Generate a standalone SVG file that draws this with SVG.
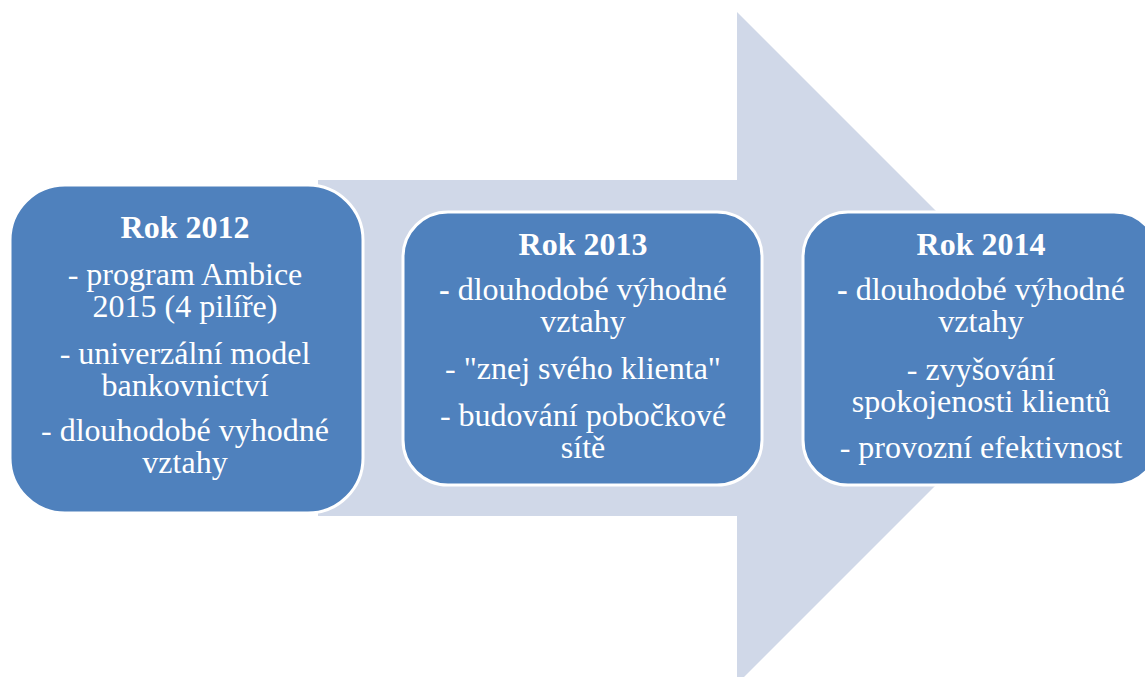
<svg xmlns="http://www.w3.org/2000/svg" width="1145" height="677" viewBox="0 0 1145 677">
<style>
.box{fill:#4F81BD;stroke:#FFFFFF;stroke-width:3}
text{font-size:32px;fill:#FFFFFF;text-anchor:middle}
.b{font-weight:bold}
</style>
<rect width="1145" height="677" fill="#FFFFFF"/>
<g id="arrow">
<polygon points="318,180 737,180 737,12 1073,348 737,684 737,516 318,516" fill="#D0D8E8"/>
</g>
<g font-family="'Liberation Serif', 'Times New Roman', 'DejaVu Serif', serif">
<g id="node2012">
<rect class="box" x="10" y="185" width="353" height="328" rx="55" ry="55"/>
<text class="b" x="185" y="238">Rok 2012</text>
<text x="185" y="285">- program Ambice</text>
<text x="185" y="317">2015 (4 pilíře)</text>
<text x="185" y="364">- univerzální model</text>
<text x="185" y="396">bankovnictví</text>
<text x="185" y="441">- dlouhodobé vyhodné</text>
<text x="185" y="473">vztahy</text>
</g>
<g id="node2013">
<rect class="box" x="403" y="212" width="359" height="273" rx="45" ry="45"/>
<text class="b" x="583" y="255">Rok 2013</text>
<text x="583" y="300"><tspan class="b">-</tspan> dlouhodobé výhodné</text>
<text x="583" y="332">vztahy</text>
<text x="583" y="379">- "znej svého klienta"</text>
<text x="583" y="426">- budování pobočkové</text>
<text x="583" y="458">sítě</text>
</g>
<g id="node2014">
<rect class="box" x="803" y="212" width="356" height="273" rx="45" ry="45"/>
<text class="b" x="981" y="255">Rok 2014</text>
<text x="981" y="300"><tspan class="b">-</tspan> dlouhodobé výhodné</text>
<text x="981" y="332">vztahy</text>
<text x="981" y="380">- zvyšování</text>
<text x="981" y="412">spokojenosti klientů</text>
<text x="981" y="458">- provozní efektivnost</text>
</g>
</g>
<g id="connectors"></g>
</svg>
